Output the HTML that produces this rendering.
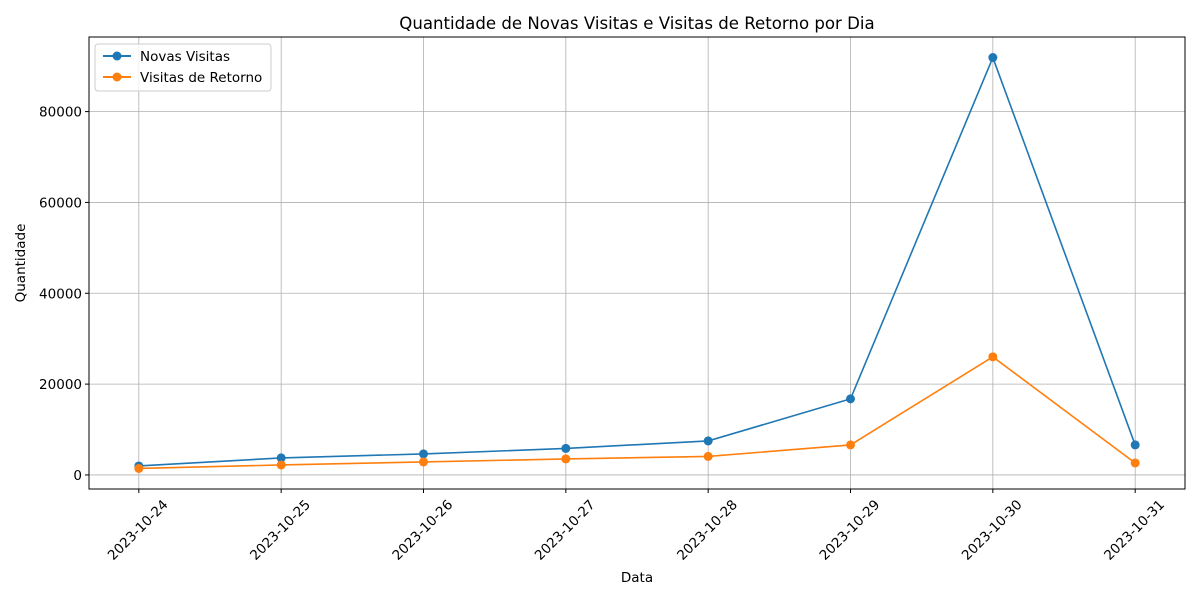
<!DOCTYPE html>
<html><head><meta charset="utf-8"><style>
html,body{margin:0;padding:0;background:#fff;}
svg{display:block;font-family:"DejaVu Sans","Liberation Sans",sans-serif;}
</style></head><body>
<svg id="chart" width="1200" height="600" viewBox="0 0 1200 600">
<rect width="1200" height="600" fill="#fff"/>
<g id="grid"></g>
<g id="series"></g>
<rect x="89" y="37" width="1096" height="452" fill="none" stroke="#000" stroke-width="1"/>
<g id="axes" font-size="13.5"></g>
<text x="637" y="29" font-size="16.6" text-anchor="middle">Quantidade de Novas Visitas e Visitas de Retorno por Dia</text>
<text x="637" y="582" font-size="13.5" text-anchor="middle">Data</text>
<text x="25" y="263" font-size="13.5" text-anchor="middle" transform="rotate(-90 25 263)">Quantidade</text>
<g id="legend">
<rect x="95" y="44" width="176" height="47" rx="3" fill="#fff" fill-opacity="0.8" stroke="#ccc"/>
<g><line x1="103" y1="56" x2="131" y2="56" stroke="#1f77b4" stroke-width="2"/><circle cx="117" cy="56" r="4.5" fill="#1f77b4"/><text x="140" y="61" font-size="13.5">Novas Visitas</text></g>
<g><line x1="103" y1="77" x2="131" y2="77" stroke="#ff7f0e" stroke-width="2"/><circle cx="117" cy="77" r="4.5" fill="#ff7f0e"/><text x="140" y="82" font-size="13.5">Visitas de Retorno</text></g>
</g>
</svg>
<script>
const categories=["2023-10-24","2023-10-25","2023-10-26","2023-10-27","2023-10-28","2023-10-29","2023-10-30","2023-10-31"];
const novasVisitas=[1980,3750,4630,5840,7490,16750,91900,6610];
const visitasRetorno=[1430,2200,2860,3530,4080,6610,26000,2640];
const yTicks=[0,20000,40000,60000,80000];
const NS="http://www.w3.org/2000/svg";
const L=89,R=1185,T=37,B=489;
const all=novasVisitas.concat(visitasRetorno);
const mn=Math.min(...all),mx=Math.max(...all),pad=(mx-mn)*0.05;
const y0=mn-pad,y1=mx+pad;
const xpad=(R-L)/(categories.length-1+0.7)*0.35;
const step=(R-L-2*xpad)/(categories.length-1);
function xs(i){return L+xpad+i*step;}
function ys(v){return B-(v-y0)/(y1-y0)*(B-T);}
function mk(tag,attrs,parent){const e=document.createElementNS(NS,tag);for(const k in attrs)e.setAttribute(k,attrs[k]);parent.appendChild(e);return e;}
const grid=document.getElementById('grid'),axes=document.getElementById('axes'),ser=document.getElementById('series');
categories.forEach((c,i)=>{
 const x=xs(i);
 const g=mk('line',{x1:x,x2:x,y1:T,y2:B,stroke:'#b0b0b0','stroke-width':0.8},grid);
 
 
 mk('line',{x1:x,x2:x,y1:B,y2:B+4,stroke:'#000'},axes);
 const cy=B+41;
 const t=mk('text',{x:x-1,y:cy+4.5,'text-anchor':'middle',transform:`rotate(-45 ${x-1} ${cy})`},axes);
 t.textContent=c;
 
 
});
yTicks.forEach(v=>{
 const y=ys(v);
 const g=mk('line',{x1:L,x2:R,y1:y,y2:y,stroke:'#b0b0b0','stroke-width':0.8},grid);
 
 
 mk('line',{x1:L-4,x2:L,y1:y,y2:y,stroke:'#000'},axes);
 const t=mk('text',{x:L-7,y:y+5,'text-anchor':'end'},axes);
 t.textContent=v;
 
 
});
function draw(vals,color,name){
 const p=mk('polyline',{points:vals.map((v,i)=>xs(i)+','+ys(v)).join(' '),fill:'none',stroke:color,'stroke-width':1.6},ser);
 
 
 vals.forEach((v,i)=>{
  const c=mk('circle',{cx:xs(i),cy:ys(v),r:4.5,fill:color},ser);
  
  
 });
}
draw(novasVisitas,'#1f77b4','novas-visitas');
draw(visitasRetorno,'#ff7f0e','visitas-retorno');
</script>
</body></html>
